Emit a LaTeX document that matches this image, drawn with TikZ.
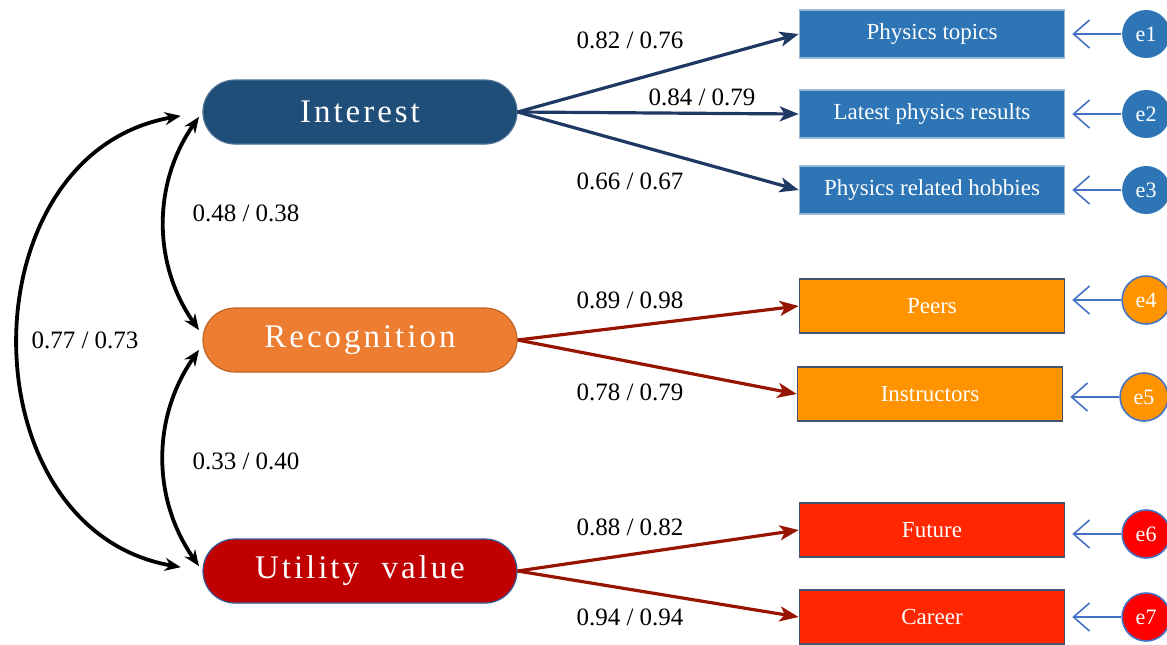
\documentclass[tikz,border=0pt]{standalone}
\usepackage{fontspec}
\setmainfont{Liberation Serif}
\usepackage{tikz}
\usetikzlibrary{arrows.meta,positioning}
\definecolor{intBlue}{RGB}{31,78,121}
\definecolor{recOrange}{RGB}{237,125,49}
\definecolor{utlRed}{RGB}{192,0,0}
\definecolor{itemBlue}{RGB}{46,117,182}
\definecolor{itemOrange}{RGB}{255,148,0}
\definecolor{itemRed}{RGB}{255,38,0}
\definecolor{errRed}{RGB}{255,0,0}
\definecolor{edgeBlue}{RGB}{68,114,196}
\definecolor{slate}{RGB}{68,84,106}
\definecolor{pathNavy}{RGB}{31,56,100}
\definecolor{pathRed}{RGB}{150,20,0}
\newcommand{\spaced}[1]{{\fontsize{16.5}{18}\selectfont\addfontfeature{LetterSpace=9}#1}}
\tikzset{
  latent/.style={rounded corners=16pt, minimum width=157pt, minimum height=32pt,
                 text=white, line width=0.6pt, inner sep=0pt},
  item/.style={minimum width=132.5pt, text=white, line width=0.8pt,
               font=\fontsize{11.5}{13}\selectfont, inner sep=0pt},
  err/.style={circle, minimum size=24pt, inner sep=0pt, text=white,
              line width=0.8pt, font=\fontsize{11}{12}\selectfont},
  lbl/.style={font=\fontsize{12.5}{14}\selectfont, inner sep=1pt},
  ld/.style={-{Stealth[length=9.5pt,width=7.5pt,inset=2.5pt]}, line width=1.6pt},
  corr/.style={{Stealth[length=8pt,width=6.5pt]}-{Stealth[length=8pt,width=6.5pt]},
               line width=1.9pt, black},
  eps/.style={-{Straight Barb[length=8pt,width=14pt]}, draw=edgeBlue, line width=0.8pt},
}
\begin{document}
\begin{tikzpicture}[x=0.5pt, y=-0.5pt]
\useasboundingbox (0,0) rectangle (1167,644);

% latent factors
\node[latent, fill=intBlue, draw=intBlue!80!white] (int) at (360,112) {\spaced{Interest}};
\node[latent, fill=recOrange, draw=recOrange!80!black] (rec) at (360,340) {\spaced{Recognition}};
\node[latent, fill=utlRed, draw=edgeBlue!80!black] (utl) at (360,571) {\spaced{Utility\ \ value}};

% observed items
\node[item, minimum height=24pt, fill=itemBlue, draw=itemBlue!50!white] (top) at (932,34) {Physics topics};
\node[item, minimum height=24pt, fill=itemBlue, draw=itemBlue!50!white] (res) at (932,114) {Latest physics results};
\node[item, minimum height=24pt, fill=itemBlue, draw=itemBlue!50!white] (hob) at (932,190) {Physics related hobbies};
\node[item, minimum height=27pt, fill=itemOrange, draw=slate] (peer) at (932,306) {Peers};
\node[item, minimum height=27pt, fill=itemOrange, draw=slate] (inst) at (930,394) {Instructors};
\node[item, minimum height=27pt, fill=itemRed, draw=slate] (fut) at (932,530) {Future};
\node[item, minimum height=27pt, fill=itemRed, draw=slate] (car) at (932,617) {Career};

% residuals
\node[err, fill=itemBlue, right=28pt of top] (e1) {e1};
\node[err, fill=itemBlue, right=28pt of res] (e2) {e2};
\node[err, fill=itemBlue, right=28pt of hob] (e3) {e3};
\node[err, fill=itemOrange, draw=edgeBlue, right=28pt of peer, yshift=3pt] (e4) {e4};
\node[err, fill=itemOrange, draw=edgeBlue, right=28pt of inst, yshift=-1.5pt] (e5) {e5};
\node[err, fill=errRed, draw=edgeBlue, right=28pt of fut, yshift=-2pt] (e6) {e6};
\node[err, fill=errRed, draw=edgeBlue, right=28pt of car] (e7) {e7};

\foreach \e/\i in {e1/top, e2/res, e3/hob, e4/peer, e5/inst, e6/fut, e7/car}
  \draw[eps, shorten >=3.5pt] (\e) -- (\e -| \i.east);

% loadings
\foreach \i in {top, res, hob}
  \draw[ld, draw=pathNavy] (int.east) -- (\i.west);
\foreach \i in {peer, inst}
  \draw[ld, draw=pathRed] (rec.east) -- (\i.west);
\foreach \i in {fut, car}
  \draw[ld, draw=pathRed] (utl.east) -- (\i.west);

\node[lbl] (l1) at (630,40) {0.82 / 0.76};
\node[lbl] (l2) at (702,97) {0.84 / 0.79};
\node[lbl] (l3) at (630,181) {0.66 / 0.67};
\node[lbl] (l4) at (630,300) {0.89 / 0.98};
\node[lbl] (l5) at (630,392) {0.78 / 0.79};
\node[lbl] (l6) at (630,527) {0.88 / 0.82};
\node[lbl] (l7) at (630,617) {0.94 / 0.94};

% factor correlations
\draw[corr, shorten <=3pt, shorten >=3pt] (int.west) to[out=235, in=125] ([yshift=2.5pt]rec.west);
\draw[corr, shorten <=3pt, shorten >=3pt] ([yshift=-2.5pt]rec.west) to[out=235, in=125] (utl.west);
\draw[corr, shorten <=11pt, shorten >=11pt] (int.west) to[out=190, in=170, looseness=1.35] (utl.west);

\node[lbl] (c1) at (246,213) {0.48 / 0.38};
\node[lbl] (c2) at (246,461) {0.33 / 0.40};
\node[lbl] (c3) at (85,340) {0.77 / 0.73};
\end{tikzpicture}
\end{document}
